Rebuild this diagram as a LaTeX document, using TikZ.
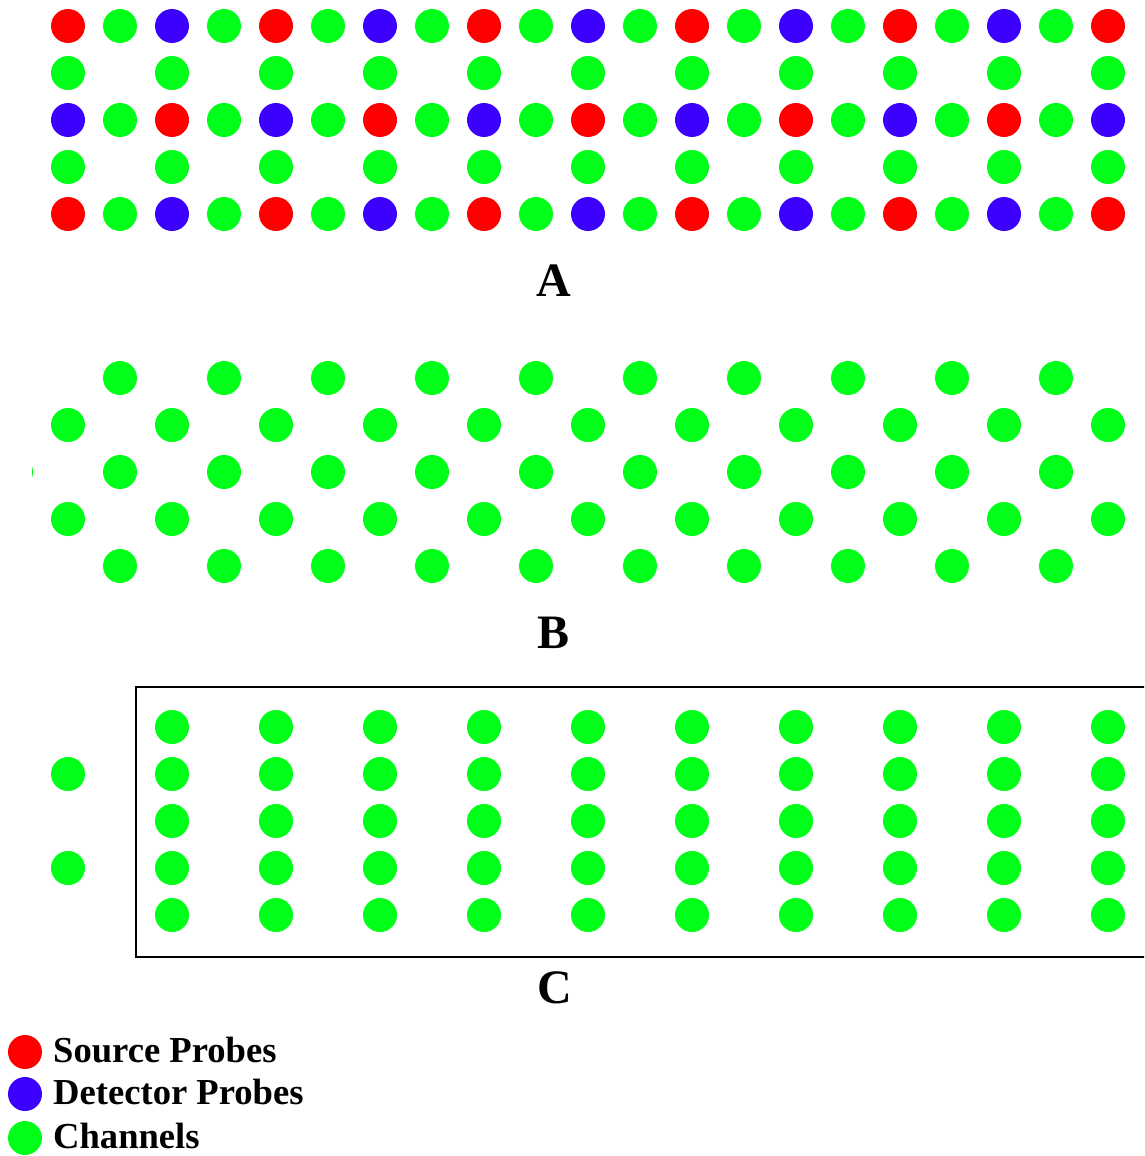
\documentclass[tikz,border=0pt]{standalone}
\usepackage{fontspec}
\setmainfont{Liberation Serif}
\definecolor{src}{RGB}{255,0,0}
\definecolor{det}{RGB}{60,0,255}
\definecolor{chn}{RGB}{0,255,25}
\begin{document}
\begin{tikzpicture}[x=1pt,y=-1pt,
  dot/.style={circle,inner sep=0pt,minimum size=34pt,draw=none},
  srcdot/.style={dot,fill=src},
  detdot/.style={dot,fill=det},
  chndot/.style={dot,fill=chn},
  panellabel/.style={font=\bfseries\fontsize{48}{48}\selectfont,anchor=base,inner sep=0pt},
  legendtext/.style={font=\bfseries\fontsize{36.6}{36.6}\selectfont,anchor=base west,inner sep=0pt}]
\clip (0,0) rectangle (1144,1156);
\fill[white] (0,0) rectangle (1144,1156);
% Panel A
\foreach \i in {0,...,20}{
  \pgfmathtruncatemacro{\m}{mod(\i,4)}
  \pgfmathsetmacro{\x}{68+52*\i}
  \ifnum\m=0
    \node[srcdot] (a1-\i) at (\x,26) {};
    \node[detdot] (a3-\i) at (\x,120) {};
    \node[srcdot] (a5-\i) at (\x,214) {};
  \fi
  \ifnum\m=2
    \node[detdot] (a1-\i) at (\x,26) {};
    \node[srcdot] (a3-\i) at (\x,120) {};
    \node[detdot] (a5-\i) at (\x,214) {};
  \fi
  \ifodd\i
    \node[chndot] (a1-\i) at (\x,26) {};
    \node[chndot] (a3-\i) at (\x,120) {};
    \node[chndot] (a5-\i) at (\x,214) {};
  \else
    \node[chndot] (a2-\i) at (\x,73) {};
    \node[chndot] (a4-\i) at (\x,167) {};
  \fi
}
\node[panellabel] (labA) at (554,296) {A};
% Panel B
\foreach \i in {0,...,20}{
  \pgfmathsetmacro{\x}{68+52*\i}
  \ifodd\i
    \node[chndot] (b1-\i) at (\x,378) {};
    \node[chndot] (b3-\i) at (\x,472) {};
    \node[chndot] (b5-\i) at (\x,566) {};
  \else
    \node[chndot] (b2-\i) at (\x,425) {};
    \node[chndot] (b4-\i) at (\x,519) {};
  \fi
}
\begin{scope}
  \clip (32,450) rectangle (40,495);
  \fill[chn] (16,472) circle (17);
\end{scope}
\node[panellabel] (labB) at (554,648) {B};
% Panel C
\draw[line width=2.8pt] (136,687) rectangle (1160,957);
\foreach \i in {0,...,9}{
  \pgfmathsetmacro{\x}{172+104*\i}
  \foreach \r/\y in {1/727,2/774,3/821,4/868,5/915}{
    \node[chndot] (c\r-\i) at (\x,\y) {};
  }
}
\node[chndot] (cl1) at (68,774) {};
\node[chndot] (cl2) at (68,868) {};
\node[panellabel] (labC) at (555,1003) {C};
% Legend
\node[srcdot] (lg1) at (25,1052) {};
\node[detdot] (lg2) at (25,1094) {};
\node[chndot] (lg3) at (25,1138) {};
\node[legendtext] (lt1) at (53,1062) {Source Probes};
\node[legendtext] (lt2) at (53,1104) {Detector Probes};
\node[legendtext] (lt3) at (53,1148) {Channels};
\end{tikzpicture}
\end{document}
